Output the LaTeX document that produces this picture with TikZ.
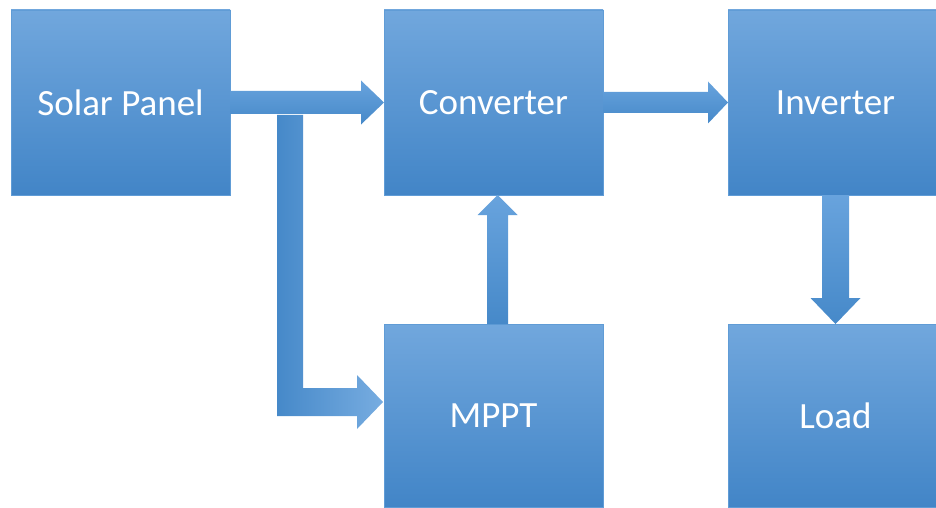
\documentclass[tikz,border=0pt]{standalone}
\usepackage{fontspec}
\setmainfont{Carlito}
\usetikzlibrary{calc}
\usetikzlibrary{positioning}
\definecolor{boxtop}{RGB}{113,167,221}
\definecolor{boxbot}{RGB}{66,133,199}
\definecolor{boxedge}{RGB}{96,156,214}
\definecolor{arrowtop}{RGB}{104,163,221}
\definecolor{arrowbot}{RGB}{70,137,201}
\tikzset{%
  block/.style={draw=boxedge, line width=.8pt, rectangle, top color=boxtop, bottom color=boxbot,
    minimum width=219pt, minimum height=185pt, outer sep=0pt, text=white,
    font=\fontsize{37}{44}\selectfont},% one stage of the system
  arrowfill/.style={top color=arrowtop, bottom color=arrowbot},% block arrows
  elbowfill/.style={left color=arrowbot, right color=arrowtop!90!white}% bent arrow to MPPT
}
% block arrow pointing right: from, to, half shaft, half head, head length
\newcommand*{\rightblock}[5]{
  \shade[arrowfill] ($(#1)+(0,#3)$) -- ($(#2)+(-#5,#3)$) -- ($(#2)+(-#5,#4)$) -- (#2)
    -- ($(#2)+(-#5,-#4)$) -- ($(#2)+(-#5,-#3)$) -- ($(#1)+(0,-#3)$) -- cycle;}
% block arrow pointing up or down: from, to, half shaft, half head, signed head length
\newcommand*{\vertblock}[5]{
  \shade[arrowfill] ($(#1)+(#3,0)$) -- ($(#2)+(#3,-#5)$) -- ($(#2)+(#4,-#5)$) -- (#2)
    -- ($(#2)+(-#4,-#5)$) -- ($(#2)+(-#3,-#5)$) -- ($(#1)+(-#3,0)$) -- cycle;}

\begin{document}
\begin{tikzpicture}
  \useasboundingbox (0,0) rectangle (936pt,-508pt);
  % Place the five stages as nodes:
  \node[block, anchor=north west] (solar) at (11pt,-10pt) {Solar Panel};
  \node[block, right=154pt of solar] (conv) {Converter};
  \node[block, right=125pt of conv, minimum width=208pt, xshift=0pt] (inv) {\hspace*{7pt}Inverter};
  \node[block, below=129pt of conv, minimum height=183pt] (mppt) {MPPT};
  \node[block, below=129pt of inv, minimum width=208pt, minimum height=183pt] (load) {\hspace*{7pt}Load};
  % Connect the stages by block arrows:
  \rightblock{solar.east}{conv.west}{11.5pt}{22pt}{23pt}
  \rightblock{conv.east}{inv.west}{10.5pt}{21pt}{20pt}
  \coordinate (mfoot) at ($(mppt.north)+(4pt,0)$);
  \coordinate (ctop) at ($(conv.south)+(4pt,0)$);
  \vertblock{mfoot}{ctop}{10.5pt}{20pt}{20pt}
  \coordinate (ifoot) at ($(inv.south)+(3.5pt,0)$);
  \coordinate (ltop) at ($(load.north)+(3.5pt,0)$);
  \vertblock{ifoot}{ltop}{13.5pt}{25pt}{-26pt}
  % The bent arrow from the panel down to the MPPT:
  \coordinate (tap) at ($(solar.east)+(47pt,-12.5pt)$);
  \coordinate (mtip) at ($(mppt.west)+(-1pt,13.5pt)$);
  \shade[elbowfill] (tap) -- ++(26pt,0) |- ($(mtip)+(-26pt,14pt)$) -- ++(0,13pt) -- (mtip)
    -- ++(-26pt,-27pt) -- ++(0,13pt) -| (tap) -- cycle;
\end{tikzpicture}
\end{document}
